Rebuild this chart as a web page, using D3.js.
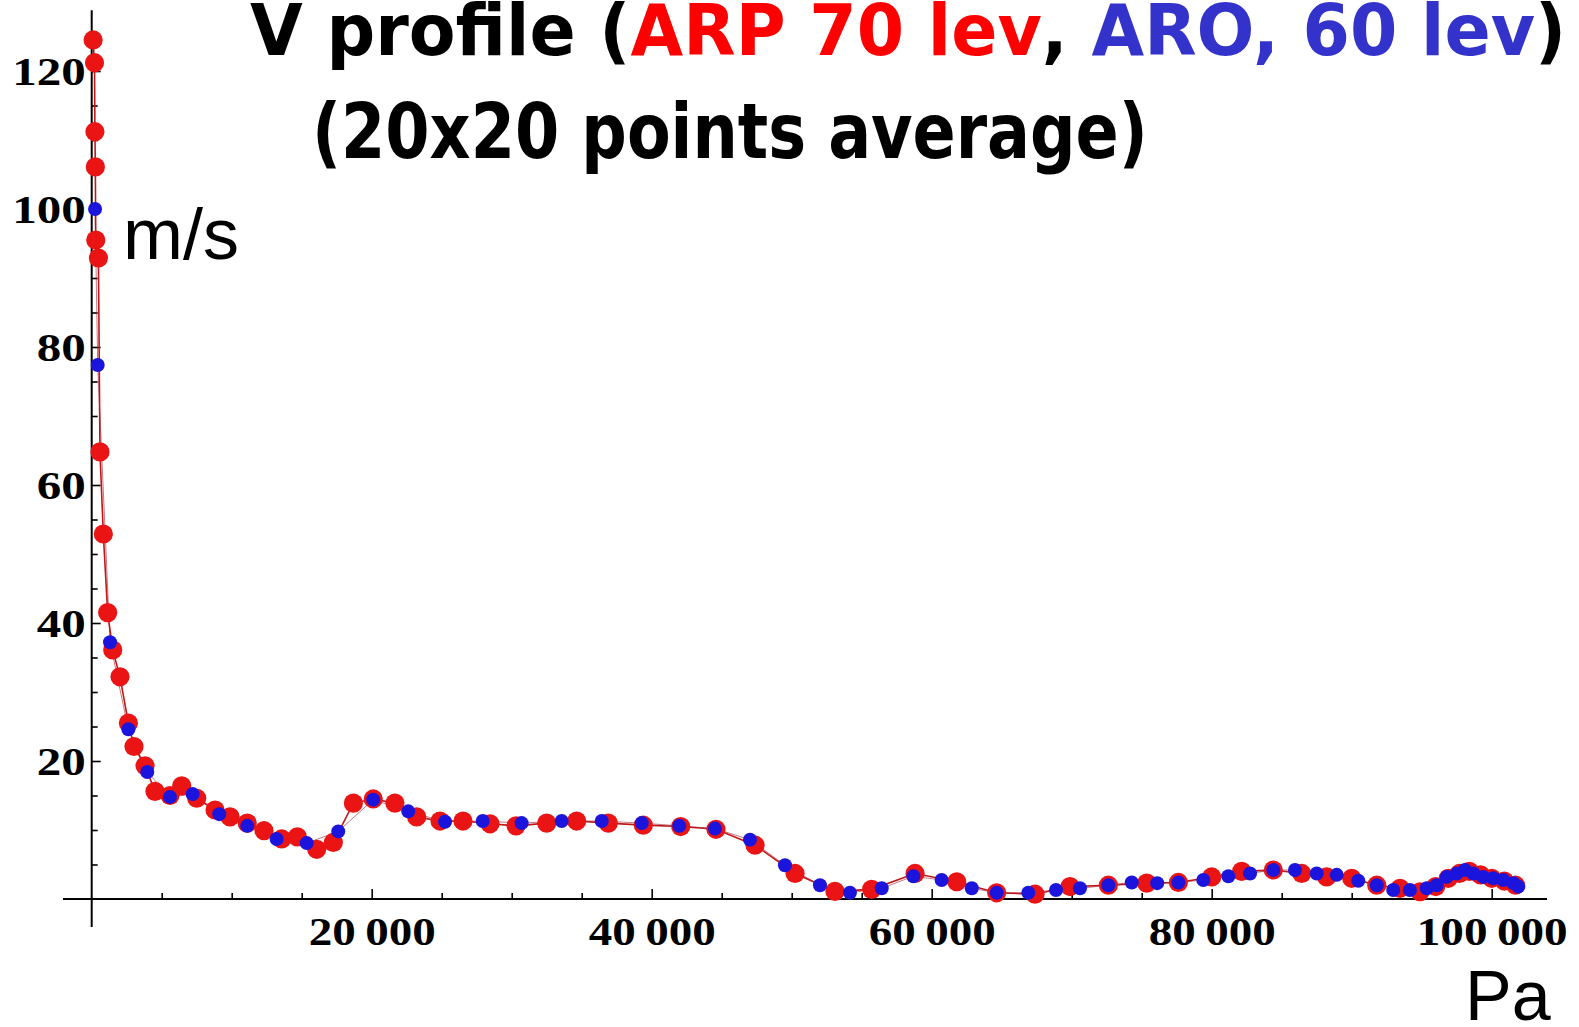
<!DOCTYPE html>
<html><head><meta charset="utf-8">
<script src="https://cdn.jsdelivr.net/npm/d3@7"></script>
<style>body{margin:0;background:#fff;} svg{display:block;}</style>
</head><body>
<svg id="c" width="1579" height="1027"></svg>
<script>
// ---- data (pressure in Pa, wind speed in m/s) ----
const arpPressure = [100, 200, 230, 260, 290, 480, 590, 830, 1140, 1500, 2020, 2620, 3020, 3810, 4520, 5590, 6430, 7500, 8810, 9880, 11110, 12310, 13570, 14690, 16070, 17260, 18690, 20110, 21660, 23210, 24880, 26520, 28450, 30310, 32500, 34640, 36900, 39400, 42070, 44590, 47380, 50240, 53090, 55710, 58810, 61790, 64640, 67380, 69880, 72620, 75360, 77620, 80000, 82140, 84400, 86430, 88210, 90000, 91790, 93450, 94880, 96000, 96900, 97700, 98400, 99200, 100000, 100900, 101700];
const arpSpeed = [124.5, 121.2, 111.2, 106.1, 95.5, 92.9, 64.8, 52.9, 41.5, 36.1, 32.2, 25.5, 22.1, 19.3, 15.6, 15.0, 16.4, 14.6, 12.9, 11.9, 11.0, 9.9, 8.7, 9.0, 7.2, 8.2, 13.9, 14.5, 13.9, 11.9, 11.3, 11.3, 10.9, 10.6, 11.0, 11.3, 11.0, 10.7, 10.5, 10.1, 7.8, 3.7, 1.1, 1.4, 3.7, 2.5, 0.9, 0.7, 1.8, 2.0, 2.3, 2.4, 3.2, 4.0, 4.2, 3.7, 3.2, 3.0, 2.0, 1.55, 1.05, 1.8, 3.0, 3.7, 4.0, 3.5, 3.0, 2.6, 2.0];
const aroPressure = [240, 430, 1310, 2620, 3970, 5590, 7210, 9110, 11110, 13210, 15360, 17610, 20110, 22610, 25240, 27930, 30710, 33570, 36430, 39290, 41970, 44520, 47020, 49520, 52020, 54160, 56430, 58690, 60710, 62860, 64640, 66900, 68880, 70590, 72620, 74290, 76110, 77620, 79400, 81190, 82740, 84400, 85950, 87500, 88930, 90470, 91790, 92970, 94160, 95360, 96070, 96790, 97500, 98090, 98690, 99400, 100110, 100830, 101540, 101900];
const aroSpeed = [100.0, 77.4, 37.2, 24.6, 18.4, 14.8, 15.2, 12.3, 10.6, 8.7, 8.1, 9.8, 14.4, 12.7, 11.2, 11.3, 11.0, 11.3, 11.3, 11.0, 10.6, 10.2, 8.6, 4.9, 2.0, 0.9, 1.55, 3.3, 2.75, 1.55, 0.9, 0.9, 1.3, 1.55, 2.0, 2.4, 2.3, 2.4, 2.75, 3.3, 3.7, 4.2, 4.2, 3.7, 3.5, 2.65, 2.0, 1.3, 1.3, 1.55, 2.0, 3.2, 3.7, 4.2, 3.7, 3.2, 3.0, 2.75, 2.3, 1.8];

const xMajorTicks = [20000, 40000, 60000, 80000, 100000];
const xMajorLabels = ["20\u2009000", "40\u2009000", "60\u2009000", "80\u2009000", "100\u2009000"];
const xMinorTicks = [5000, 10000, 15000, 25000, 30000, 35000, 45000, 50000, 55000, 65000, 70000, 75000, 85000, 90000, 95000];
const yMajorTicks = [20, 40, 60, 80, 100, 120];
const yMajorLabels = ["20", "40", "60", "80", "100", "120"];
const yMinorTicks = [5, 10, 15, 25, 30, 35, 45, 50, 55, 65, 70, 75, 85, 90, 95, 105, 110, 115, 125];

const titleLine1 = [
  {text: "V profile (", color: "#000000"},
  {text: "ARP 70 lev", color: "#ff0000"},
  {text: ", ", color: "#000000"},
  {text: "ARO, 60 lev", color: "#3333cc"},
  {text: ")", color: "#000000"}
];
const titleLine2 = "(20x20 points average)";
const yUnit = "m/s";
const xUnit = "Pa";

// ---- scales ----
const x = d3.scaleLinear().domain([0, 100000]).range([91.7, 1491.7]);
const y = d3.scaleLinear().domain([0, 120]).range([899, 71]);
const xRange = [-2050, 103950];
const yRange = [-4.06, 128.8];

const svg = d3.select("#c");
svg.append("rect").attr("width", 1579).attr("height", 1027).attr("fill", "#fff");

// axes lines
svg.append("line").attr("x1", x(xRange[0])).attr("x2", x(xRange[1])).attr("y1", y(0)).attr("y2", y(0))
  .attr("stroke", "#000").attr("stroke-width", 2);
svg.append("line").attr("x1", x(0)).attr("x2", x(0)).attr("y1", y(yRange[0])).attr("y2", y(yRange[1]))
  .attr("stroke", "#000").attr("stroke-width", 2);

const tickFont = "'Liberation Serif', 'Times New Roman', serif";

// x axis
const gx = svg.append("g").attr("transform", `translate(0,${y(0)})`)
  .call(d3.axisBottom(x).tickValues(xMajorTicks).tickSize(-10).tickPadding(17)
    .tickFormat((d, i) => xMajorLabels[i]));
const gxm = svg.append("g").attr("transform", `translate(0,${y(0)})`)
  .call(d3.axisBottom(x).tickValues(xMinorTicks).tickSize(-6).tickFormat(""));
// y axis
const gy = svg.append("g").attr("transform", `translate(${x(0)},0)`)
  .call(d3.axisLeft(y).tickValues(yMajorTicks).tickSize(-9).tickPadding(6)
    .tickFormat((d, i) => yMajorLabels[i]));
const gym = svg.append("g").attr("transform", `translate(${x(0)},0)`)
  .call(d3.axisLeft(y).tickValues(yMinorTicks).tickSize(-6).tickFormat(""));

[gx, gxm, gy, gym].forEach(g => {
  g.select(".domain").remove();
  g.selectAll(".tick line").attr("stroke", "#000").attr("stroke-width", 1.6);
  g.selectAll("text").attr("font-family", tickFont).attr("font-weight", "bold")
    .attr("font-size", 41).attr("fill", "#000");
});
gx.selectAll("text").each(function(d, i) {
  const s = xMajorLabels[i];
  const digits = s.replace(/\D/g, "").length;
  d3.select(this).attr("textLength", digits * 24 + 7).attr("lengthAdjust", "spacingAndGlyphs");
});
gy.selectAll("text").each(function(d, i) {
  const s = yMajorLabels[i];
  d3.select(this).attr("textLength", s.length * 24.5).attr("lengthAdjust", "spacingAndGlyphs");
});

// data line + points
const line = d3.line().x(d => x(d[0])).y(d => y(d[1]));
const arp = arpPressure.map((p, i) => [p, arpSpeed[i]]);
const aro = aroPressure.map((p, i) => [p, aroSpeed[i]]);

svg.append("path").datum(arp).attr("d", line).attr("fill", "none")
  .attr("stroke", "#c01818").attr("stroke-width", 1.6);
svg.append("path").datum(aro).attr("d", line).attr("fill", "none")
  .attr("stroke", "#a02030").attr("stroke-width", 1.0).attr("stroke-opacity", 0.6);

svg.append("g").selectAll("circle").data(arp).join("circle")
  .attr("cx", d => x(d[0])).attr("cy", d => y(d[1])).attr("r", 9.6)
  .attr("fill", "#ea1414");
svg.append("g").selectAll("circle").data(aro).join("circle")
  .attr("cx", d => x(d[0])).attr("cy", d => y(d[1])).attr("r", 7)
  .attr("fill", "#1a14dc");

// title
const titleFont = "'Comic Sans MS', 'DejaVu Sans', sans-serif";
function fitText(g, targetWidth) {
  const t = g.select("text");
  const w = t.node().getComputedTextLength();
  return targetWidth / w;
}
const g1 = svg.append("g");
const t1 = g1.append("text").attr("font-family", titleFont).attr("font-weight", "bold").attr("font-size", 72);
titleLine1.forEach(s => t1.append("tspan").attr("fill", s.color).text(s.text));
t1.attr("style", "white-space:pre");
const s1 = fitText(g1, 1311);
g1.attr("transform", `translate(250,55) scale(${s1},1)`);

const g2 = svg.append("g");
g2.append("text").attr("font-family", titleFont).attr("font-weight", "bold").attr("font-size", 76)
  .attr("fill", "#000").text(titleLine2);
const s2 = fitText(g2, 836);
g2.attr("transform", `translate(312,158) scale(${s2},1)`);

// units
svg.append("text").attr("x", 123).attr("y", 259).attr("font-family", "'Liberation Sans', Arial, sans-serif")
  .attr("font-size", 72).attr("fill", "#000").text(yUnit);
svg.append("text").attr("x", 1465).attr("y", 1020).attr("font-family", "'Liberation Sans', Arial, sans-serif")
  .attr("font-size", 70).attr("fill", "#000").text(xUnit);
</script>
</body></html>
